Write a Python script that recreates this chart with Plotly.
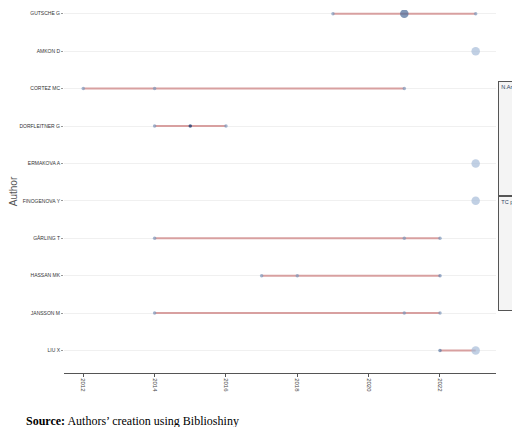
import plotly.graph_objects as go

# ----------------------------------------------------------------------
#  Data
# ----------------------------------------------------------------------

authors = ["GUTSCHE G", "AMKON D", "CORTEZ MC", "DORFLEITNER G", "ERMAKOVA A",
           "FINOGENOVA Y", "GÅRLING T", "HASSAN MK", "JANSSON M", "LIU X"]

years = [[2019, 2021, 2023], [2023], [2012, 2014, 2021], [2014, 2015, 2016], [2023],
         [2023], [2014, 2021, 2022], [2017, 2018, 2022], [2014, 2021, 2022], [2022, 2023]]
n_articles = [[1, 2, 1], [2], [1, 1, 1], [1, 1, 1], [2],
              [2], [1, 1, 1], [1, 1, 1], [1, 1, 1], [1, 2]]
tc_year = [[6, 12, 6], [1], [6, 6, 6], [6, 20, 6], [1],
           [1], [6, 6, 6], [6, 6, 8], [6, 6, 6], [10, 1]]

x_ticks = [2012, 2014, 2016, 2018, 2020, 2022]
size_legend = [1.0, 1.5, 2.0, 2.5, 3.0]
tc_legend = [0, 5, 10, 15, 20]


def tc_color(v):
    # simple blend from light to dark blue
    t = v / 20.0
    a, b = (176, 196, 222), (8, 48, 107)
    return "rgb(%d,%d,%d)" % tuple(int(a[i] + (b[i] - a[i]) * t) for i in range(3))


def msize(n):
    return 3.5 + (n - 1) * 5


fig = go.Figure()

# Lines from first to last year
for a, ys in zip(authors, years):
    if len(ys) > 1:
        fig.add_trace(go.Scatter(x=[min(ys), max(ys)], y=[a, a], mode="lines",
                                 line=dict(color="#d8a0a0", width=2),
                                 showlegend=False, hoverinfo="skip"))

# Points
for a, ys, ns, ts in zip(authors, years, n_articles, tc_year):
    fig.add_trace(go.Scatter(x=ys, y=[a] * len(ys), mode="markers",
                             marker=dict(size=[msize(n) for n in ns],
                                         color=[tc_color(t) for t in ts],
                                         line=dict(width=0)),
                             showlegend=False))

# Legends
for s in size_legend:
    fig.add_trace(go.Scatter(x=[None], y=[None], mode="markers", name="%.1f" % s,
                             marker=dict(size=3 + (s - 1) * 2, color="#0d4a8c"),
                             legend="legend"))
for t in tc_legend:
    fig.add_trace(go.Scatter(x=[None], y=[None], mode="markers", name=str(t),
                             marker=dict(size=3, color=tc_color(t)),
                             legend="legend2"))

fig.update_xaxes(range=[2011.46, 2023.57], tickvals=x_ticks, tickangle=90,
                 tickfont=dict(size=6, color="#444"), showgrid=False,
                 showline=True, linecolor="#555", ticks="outside", ticklen=3,
                 tickcolor="#555", zeroline=False)
fig.update_yaxes(categoryorder="array", categoryarray=authors[::-1],
                 range=[-0.6, 9.1],
                 tickfont=dict(size=5, color="#333"), showgrid=True, gridcolor="#f0f0f0",
                 ticks="outside", ticklen=2, tickcolor="#999",
                 title=dict(text="Author", font=dict(size=10, color="#555"), standoff=2))

fig.update_layout(
    width=520, height=427,
    margin=dict(l=40, r=32, t=2, b=62),
    plot_bgcolor="white", paper_bgcolor="white",
    font=dict(family="Liberation Sans"),
    legend=dict(x=0.943, y=0.83, xref="container", yref="container",
                xanchor="left", yanchor="top",
                title=dict(text="N.Articles", font=dict(size=5.5), side="top"),
                font=dict(size=5), bordercolor="#555", borderwidth=1,
                bgcolor="#f4f4f4", itemwidth=30, tracegroupgap=0),
    legend2=dict(x=0.943, y=0.56, xref="container", yref="container",
                 xanchor="left", yanchor="top",
                 title=dict(text="TC per Year", font=dict(size=5.5), side="top"),
                 font=dict(size=5), bordercolor="#555", borderwidth=1,
                 bgcolor="#f4f4f4", itemwidth=30),
    annotations=[
        dict(text="Year", x=2023.2, y=-0.22, xref="x", yref="paper", showarrow=False,
             font=dict(size=9, color="#555")),
        dict(text="<b>Source:</b> Authors’ creation using Biblioshiny", x=0, y=0,
             xref="paper", yref="paper", xanchor="left", yanchor="middle",
             xshift=-40, yshift=-48,
             showarrow=False, font=dict(family="Liberation Serif", size=12, color="black")),
    ],
)

fig.write_html("out.html")
